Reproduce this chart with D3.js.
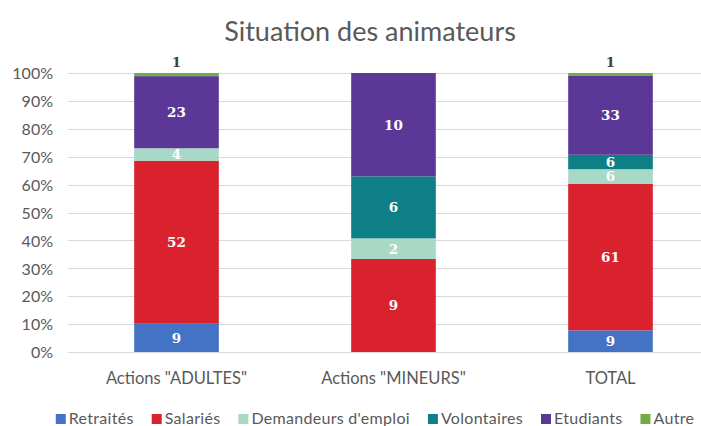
<!DOCTYPE html>
<html>
<head>
<meta charset="utf-8">
<script src="https://cdn.jsdelivr.net/npm/d3@7"></script>
<style>
  body { margin: 0; background: #fff; }
  text { font-family: Lato, "Open Sans", sans-serif; }
</style>
</head>
<body>
<div id="chart"></div>
<script>
var svgWidth = 701;
var svgHeight = 426;

// data
var categories = ['Actions "ADULTES"', 'Actions "MINEURS"', "TOTAL"];
var seriesNames = ["Retraités", "Salariés", "Demandeurs d'emploi", "Volontaires", "Etudiants", "Autre"];
var retraites = [9, 0, 9];
var salaries = [52, 9, 61];
var demandeurs = [4, 2, 6];
var volontaires = [0, 6, 6];
var etudiants = [23, 10, 33];
var autre = [1, 0, 1];
var yTicks = [0, 0.1, 0.2, 0.3, 0.4, 0.5, 0.6, 0.7, 0.8, 0.9, 1];

var colors = ["#4472C4", "#D9222E", "#A8D8C6", "#0F7F87", "#5B3797", "#70AD47"];
var seriesValues = [retraites, salaries, demandeurs, volontaires, etudiants, autre];

// build rows for stacking (percentages)
var rows = categories.map(function(c, i) {
  var row = { cat: c };
  var total = d3.sum(seriesValues, s => s[i]);
  seriesNames.forEach(function(n, j) {
    row[n] = seriesValues[j][i] / total;
    row[n + "_raw"] = seriesValues[j][i];
  });
  return row;
});

var stacked = d3.stack().keys(seriesNames)(rows);

var svg = d3.select("#chart")
  .append("svg")
  .attr("width", svgWidth)
  .attr("height", svgHeight);

var x = d3.scaleBand()
  .domain(categories)
  .range([68, 719])
  .paddingInner(0.61)
  .paddingOuter(0.305);

var y = d3.scaleLinear()
  .domain([0, 1])
  .range([352, 73]);

// title
svg.append("text")
  .attr("x", 370)
  .attr("y", 41)
  .attr("text-anchor", "middle")
  .attr("fill", "#595959")
  .style("font-size", "27px")
  .text("Situation des animateurs");

// gridlines
svg.append("g")
  .selectAll("line")
  .data(yTicks)
  .enter()
  .append("line")
  .attr("x1", 68)
  .attr("x2", 701)
  .attr("y1", d => Math.round(y(d)) + 0.5)
  .attr("y2", d => Math.round(y(d)) + 0.5)
  .attr("stroke", "#d9d9d9")
  .attr("stroke-width", 1);

// y axis labels
var leftAxis = d3.axisLeft(y)
  .tickValues(yTicks)
  .tickFormat(d3.format(".0%"))
  .tickSize(0)
  .tickPadding(0);

var yAxis = svg.append("g")
  .attr("transform", "translate(53,0)")
  .call(leftAxis);
yAxis.select(".domain").remove();
yAxis.selectAll("text")
  .attr("fill", "#595959")
  .attr("dy", "0.36em")
  .style("font-size", "16px")
  .style("font-family", "Lato, 'Open Sans', sans-serif");

// x axis labels
var bottomAxis = d3.axisBottom(x).tickSize(0).tickPadding(0);
var xAxis = svg.append("g")
  .attr("transform", "translate(0,372)")
  .call(bottomAxis);
xAxis.select(".domain").remove();
xAxis.selectAll("text")
  .attr("fill", "#595959")
  .style("font-size", "16.5px")
  .style("font-family", "Lato, 'Open Sans', sans-serif");

// bars
var layers = svg.append("g")
  .selectAll("g")
  .data(stacked)
  .enter()
  .append("g")
  .attr("fill", (d, i) => colors[i]);

layers.selectAll("rect")
  .data(d => d)
  .enter()
  .append("rect")
  .attr("x", d => x(d.data.cat))
  .attr("y", d => y(d[1]))
  .attr("width", x.bandwidth())
  .attr("height", d => y(d[0]) - y(d[1]));

// value labels
stacked.forEach(function(layer, j) {
  var name = seriesNames[j];
  layer.forEach(function(d) {
    var v = d.data[name + "_raw"];
    if (!v) return;
    var outside = name === "Autre";
    svg.append("text")
      .attr("x", x(d.data.cat) + x.bandwidth() / 2)
      .attr("y", outside ? y(d[1]) - 6 : (y(d[0]) + y(d[1])) / 2)
      .attr("dy", outside ? 0 : "0.36em")
      .attr("text-anchor", "middle")
      .attr("fill", outside ? "#404040" : "#ffffff")
      .style("font-family", "'DejaVu Serif', serif")
      .style("font-weight", "bold")
      .style("font-size", "13.5px")
      .text(v);
  });
});

// legend
var legend = svg.append("g").attr("transform", "translate(0,424)");
var items = legend.selectAll("g")
  .data(seriesNames)
  .enter()
  .append("g");

items.append("rect")
  .attr("width", 10)
  .attr("height", 10)
  .attr("y", -10)
  .attr("fill", (d, i) => colors[i]);

items.append("text")
  .attr("x", 13)
  .attr("fill", "#595959")
  .style("font-size", "16px")
  .style("letter-spacing", "0.3px")
  .text(d => d);

var widths = [];
items.each(function() {
  widths.push(this.getBBox().width);
});
var gap = 18;
var totalW = d3.sum(widths) + gap * (widths.length - 1);
var xpos = 375 - totalW / 2;
items.attr("transform", function(d, i) {
  var t = "translate(" + xpos + ",0)";
  xpos += widths[i] + gap;
  return t;
});
</script>
</body>
</html>
